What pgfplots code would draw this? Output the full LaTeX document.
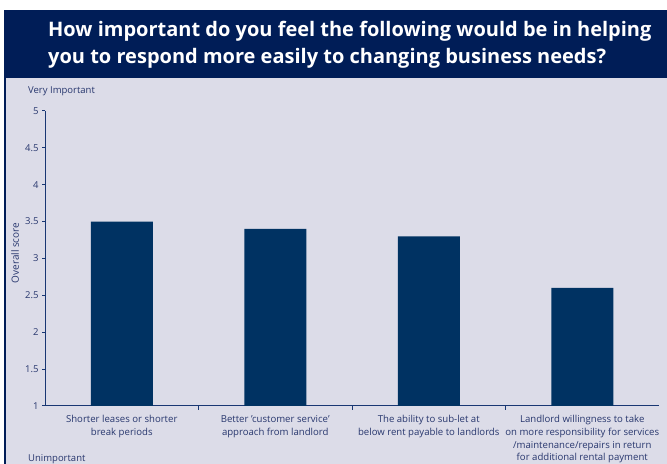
\documentclass[border=0pt]{standalone}
\usepackage{fontspec}
\setmainfont{Open Sans}
\usepackage{pgfplots}
\pgfplotsset{compat=1.18}

\definecolor{headerblue}{RGB}{0,29,87}
\definecolor{panelgrey}{RGB}{220,220,232}
\definecolor{barblue}{RGB}{0,50,98}
\definecolor{axisblue}{RGB}{25,55,115}
\definecolor{textblue}{RGB}{40,55,110}

\begin{document}
\begin{tikzpicture}[x=1bp,y=1bp]
  % background, header band and panel
  \fill[white] (0,0) rectangle (667,464);
  \fill[headerblue] (4,386) rectangle (667,454);
  \fill[panelgrey] (4,0) rectangle (667,386);
  \draw[headerblue,line width=1.5bp] (4.75,0) -- (4.75,386);

  \node[anchor=base west,white,font=\bfseries\fontsize{20bp}{24bp}\selectfont,inner sep=0] at (48,427)
    {How important do you feel the following would be in helping};
  \node[anchor=base west,white,font=\bfseries\fontsize{20bp}{24bp}\selectfont,inner sep=0] at (48,400)
    {you to respond more easily to changing business needs?};

  \node[anchor=west,textblue,font=\fontsize{9.5bp}{11bp}\selectfont,inner sep=0] at (28,373) {Very Important};
  \node[anchor=west,textblue,font=\fontsize{9.5bp}{11bp}\selectfont,inner sep=0] at (28,5) {Unimportant};
  \node[rotate=90,textblue,font=\fontsize{10bp}{11bp}\selectfont,inner sep=0] at (15,211) {Overall score};

  \begin{axis}[
    at={(45bp,58bp)}, anchor=south west,
    scale only axis,
    width=614bp, height=295bp,
    axis lines*=left,
    axis line style={axisblue, line width=1bp},
    xmin=-0.5, xmax=3.5,
    ymin=1, ymax=5,
    ytick={1,1.5,2,2.5,3,3.5,4,4.5,5},
    yticklabels={1,1.5,2,2.5,3,3.5,4,4.5,5},
    xtick={0,1,2,3},
    xticklabels={
      {Shorter leases or shorter\\break periods},
      {Better 'customer service'\\approach from landlord},
      {The ability to sub-let at\\below rent payable to landlords},
      {Landlord willingness to take\\on more responsibility for services\\/maintenance/repairs in return\\for additional rental payment}},
    minor xtick={0.5,1.5,2.5},
    major x tick style={draw=none},
    minor tick length=4bp,
    major tick length=3bp,
    tick align=outside,
    tick style={axisblue, line width=1bp},
    ticklabel style={textblue},
    yticklabel style={font=\fontsize{9.5bp}{11bp}\selectfont},
    xticklabel style={align=center, font=\fontsize{9.6bp}{12.6bp}\selectfont, yshift=-3bp},
    /pgf/number format/assume math mode=true,
    clip=false,
  ]
    \addplot[ybar, bar width=62bp, fill=barblue, draw=none] coordinates {
      (0,3.5) (1,3.4) (2,3.3) (3,2.6)
    };
  \end{axis}
  \pgfresetboundingbox
  \useasboundingbox (0,0) rectangle (667,464);
\end{tikzpicture}
\end{document}
